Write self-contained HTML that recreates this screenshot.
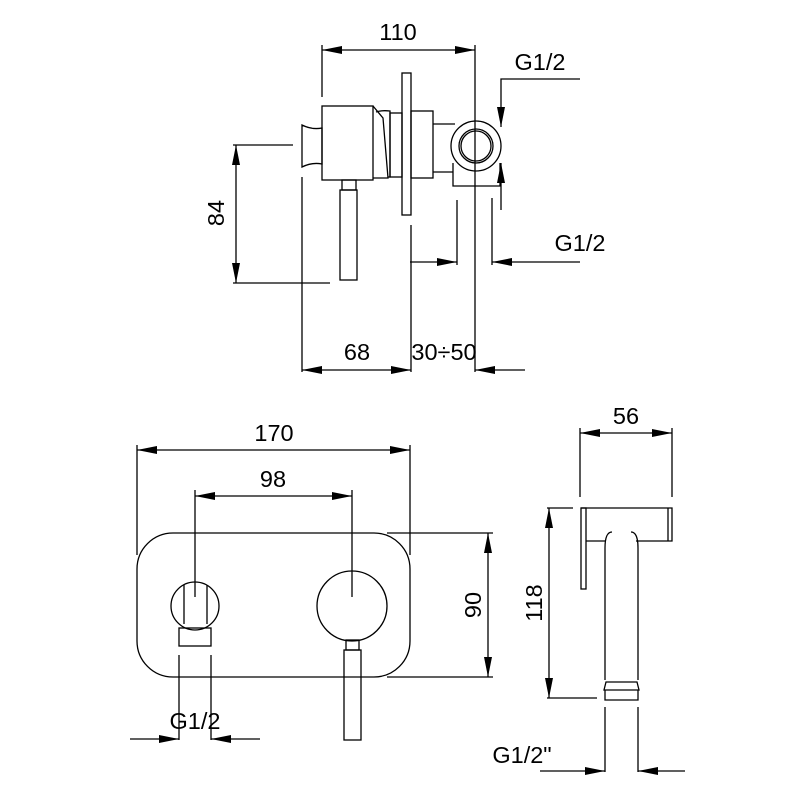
<!DOCTYPE html>
<html><head><meta charset="utf-8"><style>body{margin:0;background:#fff}svg{display:block}</style></head><body>
<svg width="800" height="800" viewBox="0 0 800 800" xmlns="http://www.w3.org/2000/svg">
<defs>
<marker id="a" viewBox="0 0 20 8" refX="20" refY="4" markerWidth="20" markerHeight="8" markerUnits="userSpaceOnUse" orient="auto-start-reverse"><path d="M0,0L20,4L0,8z" fill="#000"/></marker>
</defs>
<g fill="none" stroke="#000" stroke-width="1.3">
<line x1="322" y1="45" x2="322" y2="97"/>
<line x1="475" y1="45" x2="475" y2="372"/>
<line x1="322" y1="50" x2="475" y2="50" marker-start="url(#a)" marker-end="url(#a)"/>
<path d="M580,79H501V127" marker-end="url(#a)"/>
<line x1="501" y1="210" x2="501" y2="163" marker-end="url(#a)"/>
<path d="M302,125Q312,130 322,128V164Q312,162 302,167Z"/>
<rect x="322" y="106" width="51" height="74"/>
<path d="M373,106L383,118L388,178H373"/>
<path d="M376,112Q382,110 390,111V177H388"/>
<rect x="390" y="113" width="12" height="64"/>
<rect x="402" y="73" width="9" height="142"/>
<rect x="411" y="111" width="22" height="67"/>
<path d="M433,124H455M433,172H453"/>
<circle cx="476" cy="146" r="25"/>
<circle cx="476" cy="146" r="17"/>
<circle cx="476" cy="146" r="15"/>
<path d="M453,163V186H500V163"/>
<rect x="342" y="180" width="14" height="10"/>
<rect x="340" y="190" width="17" height="90"/>
<line x1="236" y1="145" x2="236" y2="283" marker-start="url(#a)" marker-end="url(#a)"/>
<line x1="233" y1="145" x2="293" y2="145"/>
<line x1="233" y1="283" x2="330" y2="283"/>
<line x1="302" y1="177" x2="302" y2="372"/>
<line x1="411" y1="225" x2="411" y2="372"/>
<line x1="302" y1="370" x2="411" y2="370" marker-start="url(#a)" marker-end="url(#a)"/>
<line x1="525" y1="370" x2="475" y2="370" marker-end="url(#a)"/>
<line x1="457" y1="200" x2="457" y2="265"/>
<line x1="492" y1="198" x2="492" y2="265"/>
<line x1="410" y1="262" x2="457" y2="262" marker-end="url(#a)"/>
<line x1="580" y1="262" x2="492" y2="262" marker-end="url(#a)"/>
<rect x="137" y="533" width="273" height="144" rx="36"/>
<line x1="137" y1="445" x2="137" y2="555"/>
<line x1="410" y1="445" x2="410" y2="555"/>
<line x1="137" y1="450" x2="410" y2="450" marker-start="url(#a)" marker-end="url(#a)"/>
<line x1="195" y1="490" x2="195" y2="597"/>
<line x1="352" y1="490" x2="352" y2="597"/>
<line x1="195" y1="496" x2="352" y2="496" marker-start="url(#a)" marker-end="url(#a)"/>
<line x1="387" y1="533" x2="493" y2="533"/>
<line x1="387" y1="677" x2="493" y2="677"/>
<line x1="488" y1="533" x2="488" y2="677" marker-start="url(#a)" marker-end="url(#a)"/>
<circle cx="195" cy="606" r="24"/>
<path d="M184,585V624M207,585V624"/>
<rect x="179" y="628" width="32" height="18"/>
<circle cx="352" cy="606" r="35"/>
<rect x="346" y="640" width="13" height="10"/>
<rect x="344" y="650" width="17" height="90"/>
<line x1="179" y1="655" x2="179" y2="740"/>
<line x1="211" y1="655" x2="211" y2="740"/>
<line x1="130" y1="739" x2="179" y2="739" marker-end="url(#a)"/>
<line x1="260" y1="739" x2="211" y2="739" marker-end="url(#a)"/>
<line x1="580" y1="428" x2="580" y2="497"/>
<line x1="672" y1="428" x2="672" y2="497"/>
<line x1="580" y1="433" x2="672" y2="433" marker-start="url(#a)" marker-end="url(#a)"/>
<path d="M581,508H672V541H636M606,541H586"/>
<line x1="668" y1="508" x2="668" y2="541"/>
<rect x="581" y="508" width="5" height="81"/>
<path d="M605,680V548Q605,532 612,532M631,532Q638,532 638,548V680"/>
<path d="M604,690L606,682H637L639,690ZM605,690V700H638V690"/>
<line x1="549" y1="508" x2="549" y2="698" marker-start="url(#a)" marker-end="url(#a)"/>
<line x1="547" y1="508" x2="573" y2="508"/>
<line x1="547" y1="698" x2="597" y2="698"/>
<line x1="605" y1="707" x2="605" y2="772"/>
<line x1="638" y1="707" x2="638" y2="772"/>
<line x1="540" y1="771" x2="605" y2="771" marker-end="url(#a)"/>
<line x1="685" y1="771" x2="638" y2="771" marker-end="url(#a)"/>
</g>
<g font-family="Liberation Sans, sans-serif" font-size="23.5" fill="#000" text-anchor="middle">
<text x="398" y="40">110</text>
<text x="540" y="70">G1/2</text>
<text x="580" y="251">G1/2</text>
<text x="357" y="360">68</text>
<text x="444" y="360">30÷50</text>
<text transform="translate(224,213) rotate(-90)">84</text>
<text x="274" y="441">170</text>
<text x="273" y="487">98</text>
<text transform="translate(481,605) rotate(-90)">90</text>
<text x="195" y="729">G1/2</text>
<text x="626" y="424">56</text>
<text transform="translate(542,603) rotate(-90)">118</text>
<text x="522" y="763">G1/2"</text>
</g>
</svg>
</body></html>
